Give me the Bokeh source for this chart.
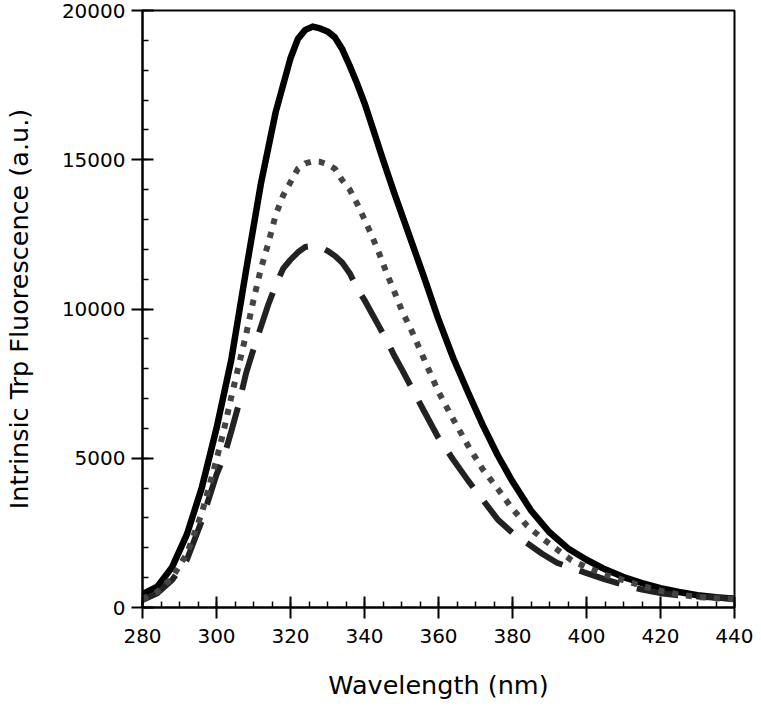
from bokeh.plotting import figure
from bokeh.models import Range1d, SingleIntervalTicker
from bokeh.embed import file_html
from bokeh.resources import INLINE

# Wavelength (nm) and intensity (a.u.)
wl_solid = [280, 284, 288, 292, 296, 300, 304, 308, 312, 316, 320, 322, 324, 326, 328,
            330, 332, 334, 336, 338, 340, 342, 345, 348, 352, 356, 360, 364, 368, 372,
            376, 380, 385, 390, 395, 400, 405, 410, 415, 420, 425, 430, 435, 440]
solid = [450, 700, 1350, 2450, 4000, 6000, 8300, 11300, 14200, 16600, 18400, 19050, 19350, 19460, 19400,
         19300, 19100, 18700, 18150, 17550, 16900, 16150, 15000, 13900, 12500, 11100, 9650, 8350, 7200, 6100,
         5100, 4220, 3250, 2520, 1980, 1600, 1280, 1020, 820, 650, 520, 410, 340, 290]

wl_dotted = [280, 284, 288, 292, 296, 300, 302, 304, 306, 308, 310, 312, 314, 316, 318, 320, 322, 324,
             326, 328, 330, 332, 334, 336, 338, 340, 342, 344, 346, 348, 350, 353, 356, 360, 364, 368,
             372, 376, 380, 384, 388, 392, 396, 400, 405, 410, 415, 420, 425, 430, 435, 440]
dotted = [280, 520, 1000, 1800, 3150, 4950, 5950, 7050, 8100, 9150, 10300, 11350, 12200, 13150, 13800, 14250, 14700, 14880,
          14950, 14930, 14850, 14700, 14310, 14000, 13530, 13000, 12450, 11850, 11200, 10600, 9980, 9200, 8350, 7220, 6300, 5420,
          4620, 3980, 3300, 2730, 2320, 1950, 1580, 1350, 1100, 920, 720, 560, 430, 350, 310, 275]

wl_dashed = [280, 284, 288, 292, 296, 300, 302, 304, 306, 308, 310, 312, 314, 316, 318, 320, 322, 324,
             326, 328, 330, 332, 334, 336, 338, 340, 342, 344, 346, 348, 350, 353, 356, 360, 364, 368,
             372, 376, 380, 384, 388, 392, 396, 400, 405, 410, 415, 420, 425, 430, 435, 440]
dashed = [250, 480, 920, 1600, 2900, 4450, 5050, 5900, 6800, 7850, 8650, 9400, 10150, 10800, 11350, 11650, 11900, 12080,
          12110, 12080, 11950, 11780, 11550, 11200, 10700, 10300, 9850, 9400, 8950, 8450, 8000, 7300, 6600, 5680, 4950, 4250,
          3600, 2950, 2500, 2150, 1800, 1500, 1320, 1150, 940, 760, 600, 480, 410, 370, 330, 290]

x_title = "Wavelength (nm)"
y_title = "Intrinsic Trp Fluorescence (a.u.)"

p = figure(width=753, height=704, output_backend="svg", toolbar_location=None,
           x_range=Range1d(280, 440), y_range=Range1d(0, 20000),
           min_border_left=127, min_border_right=19, min_border_top=10, min_border_bottom=97)
p.grid.visible = False
p.background_fill_color = "white"
p.border_fill_color = "white"
p.outline_line_color = "black"
p.outline_line_width = 2

p.line(wl_solid, solid, line_color="black", line_width=6.5, line_join="round", line_cap="round")
p.line(wl_dashed, dashed, line_color="#222222", line_width=6, line_dash="42 18", line_cap="butt")
p.line(wl_dotted, dotted, line_color="#444444", line_width=6, line_dash="6 8", line_cap="butt")

p.xaxis.ticker = SingleIntervalTicker(interval=20, num_minor_ticks=4)
p.yaxis.ticker = SingleIntervalTicker(interval=5000, num_minor_ticks=5)

for ax in (p.xaxis[0], p.yaxis[0]):
    ax.axis_line_width = 2
    ax.axis_line_color = "black"
    ax.major_tick_line_width = 2
    ax.major_tick_line_color = "black"
    ax.minor_tick_line_width = 1.5
    ax.minor_tick_line_color = "black"
    ax.major_tick_in = 11
    ax.major_tick_out = 11
    ax.minor_tick_in = 6
    ax.minor_tick_out = 0
    ax.major_label_text_font = "DejaVu Sans"
    ax.major_label_text_font_size = "20px"
    ax.major_label_text_color = "black"
    ax.axis_label_text_font = "DejaVu Sans"
    ax.axis_label_text_font_size = "25.5px"
    ax.axis_label_text_font_style = "normal"
    ax.axis_label_text_color = "black"

p.xaxis.axis_label = x_title
p.yaxis.axis_label = y_title
p.xaxis.major_label_standoff = 10
p.xaxis.axis_label_standoff = 24
p.yaxis.major_label_standoff = 6
p.yaxis.axis_label_standoff = 25

open("out.html", "w").write(file_html(p, INLINE))
